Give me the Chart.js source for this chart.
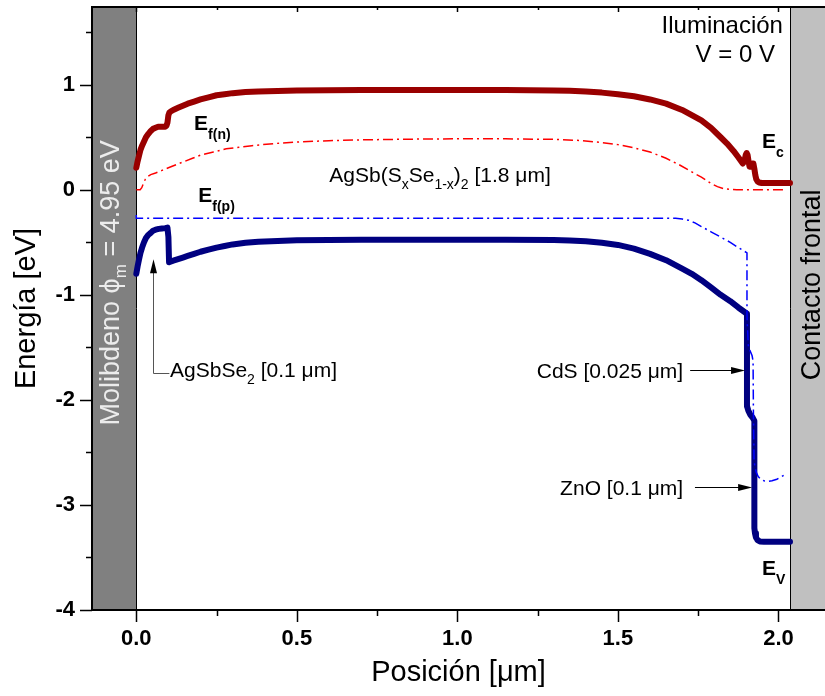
<!DOCTYPE html>
<html>
<head>
<meta charset="utf-8">
<script src="https://cdn.jsdelivr.net/npm/chart.js@4.4.1/dist/chart.umd.min.js"></script>
<style>
  html, body { margin: 0; padding: 0; background: #fff; }
</style>
</head>
<body>
<canvas id="bandas" width="825" height="696"></canvas>
<script>
// posiciones en micras, energias en eV
const ecX = [0, 0.004, 0.008, 0.013, 0.018, 0.024, 0.03, 0.037, 0.045, 0.052, 0.06, 0.068, 0.075, 0.083, 0.09, 0.094, 0.097, 0.1, 0.103, 0.107, 0.115, 0.13, 0.145, 0.16, 0.18, 0.2, 0.225, 0.25, 0.275, 0.3, 0.34, 0.38, 0.44, 0.5, 0.6, 0.7, 0.85, 1.0, 1.15, 1.3, 1.35, 1.4, 1.45, 1.5, 1.55, 1.6, 1.65, 1.7, 1.73, 1.76, 1.79, 1.82, 1.84, 1.86, 1.875, 1.889, 1.894, 1.898, 1.901, 1.904, 1.907, 1.91, 1.914, 1.918, 1.922, 1.925, 1.928, 1.931, 1.935, 1.94, 1.948, 2.036];
const ecY = [0.21, 0.27, 0.32, 0.38, 0.42, 0.46, 0.5, 0.53, 0.56, 0.58, 0.59, 0.6, 0.6, 0.6, 0.6, 0.61, 0.64, 0.71, 0.735, 0.745, 0.76, 0.78, 0.8, 0.82, 0.84, 0.86, 0.88, 0.9, 0.91, 0.92, 0.93, 0.935, 0.94, 0.945, 0.948, 0.95, 0.95, 0.95, 0.95, 0.945, 0.942, 0.935, 0.925, 0.91, 0.89, 0.86, 0.82, 0.76, 0.71, 0.66, 0.59, 0.5, 0.44, 0.37, 0.31, 0.25, 0.27, 0.33, 0.35, 0.33, 0.27, 0.22, 0.22, 0.25, 0.25, 0.2, 0.14, 0.1, 0.08, 0.07, 0.065, 0.065];

const evX = [0, 0.004, 0.008, 0.013, 0.018, 0.024, 0.03, 0.037, 0.045, 0.052, 0.06, 0.07, 0.08, 0.09, 0.097, 0.1, 0.102, 0.115, 0.13, 0.145, 0.16, 0.18, 0.2, 0.225, 0.25, 0.275, 0.3, 0.34, 0.38, 0.44, 0.5, 0.6, 0.7, 0.85, 1.0, 1.15, 1.3, 1.35, 1.4, 1.45, 1.5, 1.55, 1.6, 1.65, 1.7, 1.73, 1.76, 1.79, 1.82, 1.85, 1.875, 1.902, 1.902, 1.906, 1.912, 1.92, 1.925, 1.925, 1.927, 1.93, 1.935, 1.942, 1.955, 2.036];
const evY = [-0.8, -0.73, -0.67, -0.6, -0.55, -0.5, -0.46, -0.43, -0.41, -0.39, -0.38, -0.372, -0.368, -0.365, -0.36, -0.45, -0.69, -0.675, -0.66, -0.645, -0.63, -0.61, -0.59, -0.57, -0.55, -0.535, -0.52, -0.505, -0.495, -0.487, -0.48, -0.477, -0.475, -0.475, -0.475, -0.475, -0.478, -0.482, -0.49, -0.505, -0.525, -0.56, -0.61, -0.67, -0.75, -0.8, -0.86, -0.93, -1.0, -1.06, -1.12, -1.18, -2.06, -2.1, -2.14, -2.17, -2.2, -3.22, -3.27, -3.31, -3.335, -3.347, -3.35, -3.35];

const efnX = [0, 0.012, 0.017, 0.022, 0.028, 0.035, 0.045, 0.06, 0.08, 0.1, 0.125, 0.15, 0.175, 0.2, 0.24, 0.28, 0.32, 0.36, 0.43, 0.5, 0.6, 0.7, 0.85, 1.0, 1.15, 1.3, 1.38, 1.45, 1.5, 1.55, 1.6, 1.65, 1.69, 1.73, 1.76, 1.79, 1.81, 1.83, 1.85, 1.87, 2.015];
const efnY = [0, 0, 0.02, 0.06, 0.1, 0.125, 0.145, 0.16, 0.185, 0.21, 0.24, 0.27, 0.3, 0.33, 0.36, 0.39, 0.405, 0.42, 0.44, 0.455, 0.468, 0.475, 0.482, 0.485, 0.485, 0.48, 0.47, 0.45, 0.43, 0.4, 0.36, 0.3, 0.24, 0.17, 0.12, 0.06, 0.03, 0.01, 0.003, 0, 0];

const efpX = [0, 0, 0.5, 1.0, 1.5, 1.65, 1.68, 1.7, 1.72, 1.74, 1.76, 1.79, 1.82, 1.85, 1.875, 1.902, 1.902, 1.906, 1.91, 1.914, 1.918, 1.921, 1.922, 1.924, 1.927, 1.931, 1.937, 1.945, 1.955, 1.968, 1.98, 1.995, 2.01, 2.025];
const efpY = [-0.24, -0.27, -0.27, -0.27, -0.27, -0.27, -0.272, -0.278, -0.29, -0.315, -0.35, -0.4, -0.45, -0.5, -0.55, -0.6, -1.2, -1.48, -1.52, -1.55, -1.58, -1.63, -2.1, -2.58, -2.64, -2.69, -2.73, -2.755, -2.77, -2.775, -2.77, -2.755, -2.73, -2.7];

const xTicks = [0.0, 0.5, 1.0, 1.5, 2.0];
const yTicks = [-4, -3, -2, -1, 0, 1];
const contactoX = 2.036;

function pts(xs, ys) {
    return xs.map((v, i) => ({ x: v, y: ys[i] }));
}

const FAM = '"Liberation Sans", Arial, sans-serif';

// texto con subindices: partes [texto, tamano, negrita, desplazamiento]
function rich(ctx, parts, x, y, align) {
    let w = 0;
    parts.forEach(p => {
        ctx.font = (p[2] ? 'bold ' : '') + p[1] + 'px ' + FAM;
        w += ctx.measureText(p[0]).width;
    });
    let cx = align === 'right' ? x - w : align === 'center' ? x - w / 2 : x;
    ctx.textAlign = 'left';
    ctx.textBaseline = 'alphabetic';
    parts.forEach(p => {
        ctx.font = (p[2] ? 'bold ' : '') + p[1] + 'px ' + FAM;
        ctx.fillText(p[0], cx, y + (p[3] || 0));
        cx += ctx.measureText(p[0]).width;
    });
}

function arrowHead(ctx, x, y, dir) {
    // dir: 'up' o 'right'
    ctx.beginPath();
    if (dir === 'up') {
        ctx.moveTo(x, y); ctx.lineTo(x - 3.5, y + 14); ctx.lineTo(x + 3.5, y + 14);
    } else {
        ctx.moveTo(x, y); ctx.lineTo(x - 14, y - 3.5); ctx.lineTo(x - 14, y + 3.5);
    }
    ctx.closePath();
    ctx.fill();
}

const decor = {
    id: 'decor',
    beforeDatasetsDraw(chart) {
        const { ctx, chartArea: a, scales: { x, y } } = chart;
        const x0 = x.getPixelForValue(0);
        const x1 = x.getPixelForValue(contactoX);
        ctx.save();
        ctx.fillStyle = '#808080';
        ctx.fillRect(a.left, a.top, x0 - a.left, a.bottom - a.top);
        ctx.fillStyle = '#c0c0c0';
        ctx.fillRect(x1, a.top, a.right - x1, a.bottom - a.top);
        ctx.strokeStyle = '#000';
        ctx.lineWidth = 1;
        ctx.beginPath();
        ctx.moveTo(Math.round(x0) + 0.5, a.top); ctx.lineTo(Math.round(x0) + 0.5, a.bottom);
        ctx.moveTo(Math.round(x1) + 0.5, a.top); ctx.lineTo(Math.round(x1) + 0.5, a.bottom);
        ctx.stroke();

        // texto vertical en los contactos
        ctx.save();
        ctx.translate(119, y.getPixelForValue(-0.886));
        ctx.rotate(-Math.PI / 2);
        ctx.fillStyle = '#ececec';
        rich(ctx, [['Molibdeno \u03d5', 27], ['m', 17, false, 7], [' = 4.95 eV', 27]], 0, 0, 'center');
        ctx.restore();

        ctx.save();
        ctx.translate(820, y.getPixelForValue(-0.905));
        ctx.rotate(-Math.PI / 2);
        ctx.fillStyle = '#000';
        rich(ctx, [['Contacto frontal', 27]], 0, 0, 'center');
        ctx.restore();
        ctx.restore();
    },
    afterDraw(chart) {
        const { ctx, chartArea: a, scales: { x, y } } = chart;
        const px = v => x.getPixelForValue(v);
        const py = v => y.getPixelForValue(v);
        ctx.save();
        ctx.strokeStyle = '#000';
        ctx.fillStyle = '#000';

        // marco
        ctx.lineWidth = 2;
        ctx.beginPath();
        ctx.moveTo(a.right + 2, a.top); ctx.lineTo(a.left, a.top);
        ctx.lineTo(a.left, a.bottom); ctx.lineTo(a.right + 2, a.bottom);
        ctx.stroke();

        // marcas del eje
        ctx.lineWidth = 1.5;
        ctx.beginPath();
        x.ticks.forEach(t => {
            const p = Math.round(px(t.value)) + 0.5;
            const major = Math.abs(t.value * 2 - Math.round(t.value * 2)) < 1e-6;
            ctx.moveTo(p, a.bottom); ctx.lineTo(p, a.bottom + (major ? 12 : 6));
            ctx.moveTo(p, a.top); ctx.lineTo(p, a.top + (major ? 5 : 3));
        });
        y.ticks.forEach(t => {
            const p = Math.round(py(t.value)) + 0.5;
            const major = Math.abs(t.value - Math.round(t.value)) < 1e-6;
            ctx.moveTo(a.left, p); ctx.lineTo(a.left - (major ? 12 : 6), p);
        });
        ctx.stroke();

        // etiquetas
        rich(ctx, [['Iluminación', 24]], px(2.014), py(1.495), 'right');
        rich(ctx, [['V = 0 V', 24]], px(1.989), py(1.219), 'right');

        rich(ctx, [['E', 21, true], ['f(n)', 14, true, 9]], px(0.18), py(0.571), 'left');
        rich(ctx, [['E', 21, true], ['f(p)', 14, true, 9]], px(0.193), py(-0.114), 'left');
        rich(ctx, [['E', 21, true], ['c', 14, true, 9]], px(1.949), py(0.40), 'left');
        rich(ctx, [['E', 21, true], ['V', 14, true, 9]], px(1.949), py(-3.667), 'left');

        rich(ctx, [['AgSb(S', 21], ['x', 14, false, 7], ['Se', 21], ['1-x', 14, false, 7], [')', 21], ['2', 14, false, 7], [' [1.8 \u03bcm]', 21]], px(0.946), py(0.076), 'center');

        rich(ctx, [['AgSbSe', 21], ['2', 14, false, 7], [' [0.1 \u03bcm]', 21]], px(0.105), py(-1.78), 'left');
        rich(ctx, [['CdS [0.025 \u03bcm]', 21]], px(1.703), py(-1.79), 'right');
        rich(ctx, [['ZnO [0.1 \u03bcm]', 21]], px(1.703), py(-2.905), 'right');

        // flechas
        ctx.lineWidth = 1;
        ctx.strokeStyle = '#555';
        ctx.beginPath();
        const ax = Math.round(px(0.052)) + 0.5;
        ctx.moveTo(px(0.103), Math.round(py(-1.74)) + 0.5);
        ctx.lineTo(ax, Math.round(py(-1.74)) + 0.5);
        ctx.lineTo(ax, py(-0.66) + 10);
        ctx.stroke();
        arrowHead(ctx, ax, py(-0.66), 'up');

        ctx.strokeStyle = '#000';
        ctx.beginPath();
        ctx.moveTo(px(1.725), Math.round(py(-1.714)) + 0.5);
        ctx.lineTo(px(1.896) - 10, Math.round(py(-1.714)) + 0.5);
        ctx.moveTo(px(1.740), Math.round(py(-2.83)) + 0.5);
        ctx.lineTo(px(1.918) - 10, Math.round(py(-2.83)) + 0.5);
        ctx.stroke();
        arrowHead(ctx, px(1.896), Math.round(py(-1.714)) + 0.5, 'right');
        arrowHead(ctx, px(1.918), Math.round(py(-2.83)) + 0.5, 'right');
        ctx.restore();
    }
};

const chart = new Chart(document.getElementById('bandas').getContext('2d'), {
    type: 'scatter',
    data: {
        datasets: [{
            label: 'Ef(n)',
            data: pts(efnX, efnY),
            showLine: true,
            borderColor: '#ff0000',
            borderWidth: 1.5,
            borderDash: [10, 4, 2, 4],
            pointRadius: 0
        },
        {
            label: 'Ef(p)',
            data: pts(efpX, efpY),
            showLine: true,
            borderColor: '#0000ff',
            borderWidth: 1.5,
            borderDash: [10, 4, 2, 4],
            pointRadius: 0
        },
        {
            label: 'Ec',
            data: pts(ecX, ecY),
            showLine: true,
            borderColor: '#990000',
            borderWidth: 6,
            borderJoinStyle: 'round',
            borderCapStyle: 'round',
            pointRadius: 0
        },
        {
            label: 'Ev',
            data: pts(evX, evY),
            showLine: true,
            borderColor: '#000080',
            borderWidth: 6,
            borderJoinStyle: 'round',
            borderCapStyle: 'round',
            pointRadius: 0
        }]
    },
    options: {
        responsive: false,
        animation: false,
        layout: { padding: { top: 7, right: 0, left: 0, bottom: 0 } },
        plugins: {
            legend: { display: false },
            tooltip: { enabled: false }
        },
        scales: {
            x: {
                type: 'linear',
                min: -0.138,
                max: 2.145,
                afterFit: s => { s.height = 86; s.paddingLeft = 0; s.paddingRight = 0; },
                border: { display: false },
                grid: { drawOnChartArea: false, drawTicks: true, tickLength: 12, color: 'rgba(0,0,0,0)' },
                ticks: {
                    stepSize: 0.25,
                    includeBounds: false,
                    autoSkip: false,
                    maxRotation: 0,
                    maxTicksLimit: 100,
                    padding: 4,
                    color: '#000',
                    font: { family: FAM, size: 22, weight: 'bold' },
                    callback: v => xTicks.some(t => Math.abs(t - v) < 1e-6) ? v.toFixed(1) : ''
                },
                title: {
                    display: true,
                    text: 'Posición [\u03bcm]',
                    color: '#000',
                    font: { family: FAM, size: 29 },
                    padding: { top: 0, bottom: 6 }
                }
            },
            y: {
                type: 'linear',
                min: -4,
                max: 1.74,
                afterFit: s => { s.width = 92; s.paddingTop = 0; s.paddingBottom = 0; },
                border: { display: false },
                grid: { drawOnChartArea: false, drawTicks: true, tickLength: 12, color: 'rgba(0,0,0,0)' },
                ticks: {
                    stepSize: 0.5,
                    includeBounds: false,
                    autoSkip: false,
                    maxTicksLimit: 100,
                    padding: 5,
                    color: '#000',
                    font: { family: FAM, size: 22, weight: 'bold' },
                    callback: v => yTicks.includes(v) ? String(v) : ''
                },
                title: {
                    display: true,
                    text: 'Energía [eV]',
                    color: '#000',
                    font: { family: FAM, size: 29 },
                    padding: { top: 10, bottom: 0 }
                }
            }
        }
    },
    plugins: [decor]
});
</script>
</body>
</html>
